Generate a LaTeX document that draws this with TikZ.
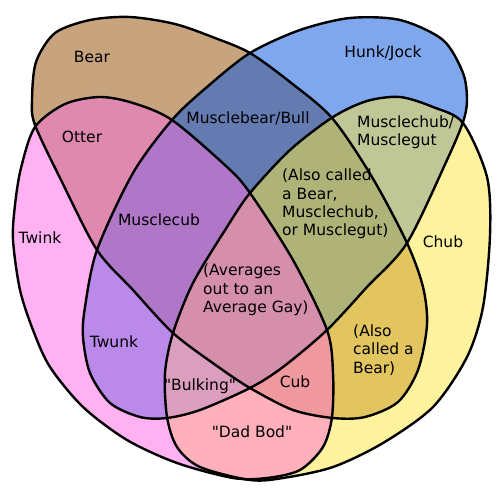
\documentclass[tikz,border=0pt]{standalone}
\usepackage{fontspec}
\setmainfont{DejaVu Sans}
\definecolor{BearTan}{HTML}{C8A47E}
\definecolor{HunkBlue}{HTML}{7FA7EE}
\definecolor{TwinkPink}{HTML}{FFB1F2}
\definecolor{ChubYellow}{HTML}{FFF29E}
\definecolor{BullBlue}{HTML}{637BB0}
\definecolor{OtterPink}{HTML}{E089AF}
\definecolor{BearGold}{HTML}{E2C55E}
\definecolor{TwunkLilac}{HTML}{BB89E9}
\definecolor{GutSage}{HTML}{BFC797}
\definecolor{DadRose}{HTML}{FFB0BB}
\definecolor{CubPurple}{HTML}{B077C9}
\definecolor{ChubOlive}{HTML}{AFB378}
\definecolor{CubRed}{HTML}{EF999F}
\definecolor{BulkPink}{HTML}{DC9EBE}
\definecolor{AvgMauve}{HTML}{D68FAB}

% outlines of the four sets, traced in picture pixels
\newcommand{\bearshape}{plot[smooth cycle] coordinates {(32,100) (36,62) (55,33) (90,20) (130,17) (175,24) (215,38) (250,53) (290,82) (332,118) (372,177) (407,243) (423,287) (427,325) (418,370) (398,402) (365,417) (333,418) (293,410) (250,388) (217,366) (173,333) (133,290) (97,250) (62,182) (35,125)}}
\newcommand{\hunkshape}{plot[smooth cycle] coordinates {(250,53) (300,30) (350,18) (400,20) (443,40) (463,73) (467,100) (463,122) (447,160) (407,243) (367,287) (327,330) (283,367) (250,388) (200,410) (167,418) (140,417) (110,403) (90,373) (83,337) (85,307) (97,250) (133,173) (172,120) (207,87)}}
\newcommand{\twinkshape}{plot[smooth cycle] coordinates {(100,97) (133,103) (172,120) (227,167) (250,193) (293,260) (327,330) (333,373) (332,417) (323,447) (300,470) (267,478) (233,478) (177,463) (127,440) (83,407) (50,367) (33,330) (20,290) (13,240) (15,205) (21,168) (35,127) (65,104)}}
\newcommand{\chubshape}{plot[smooth cycle] coordinates {(400,97) (433,107) (463,123) (487,177) (490,235) (483,307) (467,357) (433,407) (383,443) (333,467) (283,478) (250,480) (200,467) (177,447) (167,417) (165,373) (173,333) (193,283) (227,227) (250,193) (290,150) (333,117) (367,101)}}

\begin{document}
\begin{tikzpicture}[x=1pt,y=-1pt,
    outl/.style={draw=black,line width=2.4pt},
    lbl/.style={font=\fontsize{15.5}{18.3}\selectfont,inner sep=0pt},
    blk/.style={lbl,align=left,anchor=west},
  ]
  \path[use as bounding box,fill=white] (0,0) rectangle (500,500);
  % one set
  \fill[BearTan] \bearshape;
  \fill[HunkBlue] \hunkshape;
  \fill[TwinkPink] \twinkshape;
  \fill[ChubYellow] \chubshape;
  % two sets
  \begin{scope}\clip \bearshape; \fill[BullBlue] \hunkshape; \end{scope}
  \begin{scope}\clip \bearshape; \fill[OtterPink] \twinkshape; \end{scope}
  \begin{scope}\clip \bearshape; \fill[BearGold] \chubshape; \end{scope}
  \begin{scope}\clip \hunkshape; \fill[TwunkLilac] \twinkshape; \end{scope}
  \begin{scope}\clip \hunkshape; \fill[GutSage] \chubshape; \end{scope}
  \begin{scope}\clip \twinkshape; \fill[DadRose] \chubshape; \end{scope}
  % three sets
  \begin{scope}\clip \bearshape; \clip \hunkshape; \fill[CubPurple] \twinkshape; \end{scope}
  \begin{scope}\clip \bearshape; \clip \hunkshape; \fill[ChubOlive] \chubshape; \end{scope}
  \begin{scope}\clip \bearshape; \clip \twinkshape; \fill[CubRed] \chubshape; \end{scope}
  \begin{scope}\clip \hunkshape; \clip \twinkshape; \fill[BulkPink] \chubshape; \end{scope}
  % all four
  \begin{scope}\clip \bearshape; \clip \hunkshape; \clip \twinkshape; \fill[AvgMauve] \chubshape; \end{scope}
  % outlines
  \draw[outl] \bearshape;
  \draw[outl] \hunkshape;
  \draw[outl] \twinkshape;
  \draw[outl] \chubshape;
  % labels
  \node[lbl] (bear) at (92,57) {Bear};
  \node[lbl] (hunk) at (383,53) {Hunk/Jock};
  \node[lbl] (bull) at (248,118) {Musclebear/Bull};
  \node[lbl] (otter) at (82,137) {Otter};
  \node[blk] (gut) at (357,132) {Musclechub/\\Musclegut};
  \node[lbl] (musclecub) at (159,220) {Musclecub};
  \node[lbl] (twink) at (40,238) {Twink};
  \node[blk] (olive) at (282,204) {(Also called\\a Bear,\\Musclechub,\\or Musclegut)};
  \node[lbl] (chub) at (443,242) {Chub};
  \node[blk] (avg) at (203,290) {(Averages\\out to an\\Average Gay)};
  \node[lbl] (twunk) at (114,342) {Twunk};
  \node[blk] (alsobear) at (353,350) {(Also\\called a\\Bear)};
  \node[lbl] (bulking) at (200,386) {\textquotedbl Bulking\textquotedbl};
  \node[lbl] (cub) at (295,382) {Cub};
  \node[lbl] (dadbod) at (252,432) {\textquotedbl Dad Bod\textquotedbl};
\end{tikzpicture}
\end{document}
